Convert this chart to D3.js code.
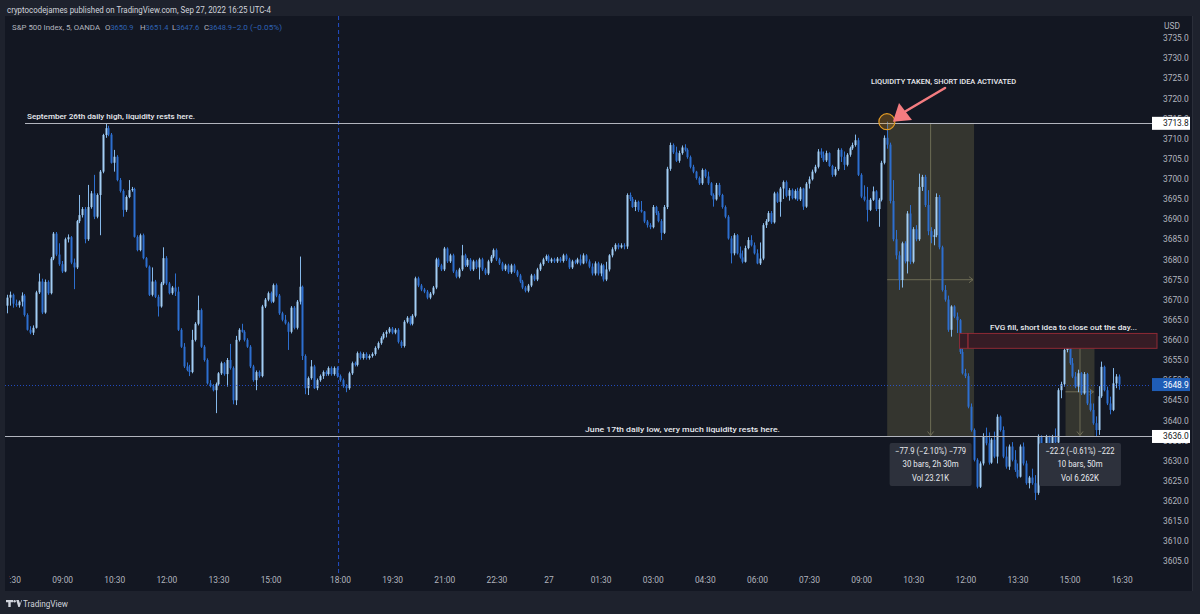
<!DOCTYPE html>
<html><head><meta charset="utf-8">
<script src="https://cdn.jsdelivr.net/npm/d3@7"></script>
<style>html,body{margin:0;padding:0;background:#1e222d;overflow:hidden}svg{display:block}text{font-family:Roboto,"Noto Sans",sans-serif}</style>
</head><body>
<svg id="c" width="1200" height="614"></svg>
<script>
// ---------- DATA (5-minute bars, first bar = 07:25 Sep 26, index -1) ----------
const firstBar = -1;
const opens = [
3668.5,3670.5,3671.2,3669.0,3668.6,3669.5,3671.0,3666.2,3662.5,3661.8,
3663.0,3671.8,3674.5,3666.8,3674.4,3671.6,3680.2,3686.4,3681.2,3678.8,
3677.0,3685.0,3685.5,3679.2,3678.0,3689.5,3691.0,3692.5,3685.0,3693.0,
3696.4,3690.6,3696.0,3701.8,3710.9,3712.6,3711.0,3704.0,3705.5,3699.7,
3697.0,3692.3,3695.5,3697.2,3697.5,3685.6,3682.3,3686.0,3680.3,3678.2,
3671.2,3674.5,3670.7,3668.3,3674.0,3680.3,3674.0,3671.6,3673.0,3672.0,
3662.5,3658.3,3653.4,3652.5,3652.0,3660.0,3664.0,3667.4,3658.3,3655.0,
3649.2,3648.5,3647.5,3649.0,3651.7,3654.2,3651.5,3655.0,3653.0,3645.0,
3660.0,3662.5,3662.0,3660.0,3658.3,3653.4,3650.0,3652.0,3651.0,3668.3,
3670.0,3671.6,3669.5,3673.6,3671.0,3666.6,3665.0,3664.1,3662.0,3668.0,
3663.0,3669.5,3673.2,3656.0,3648.0,3650.5,3653.4,3648.0,3650.0,3651.0,
3652.0,3651.5,3653.0,3651.5,3653.0,3651.0,3650.0,3648.5,3648.0,3651.7,
3654.2,3653.8,3656.7,3655.5,3656.5,3655.5,3656.0,3656.5,3658.0,3659.2,
3660.5,3661.5,3662.0,3662.8,3661.8,3662.5,3659.5,3658.5,3664.5,3665.5,
3664.0,3666.0,3675.3,3673.5,3672.5,3672.0,3670.5,3671.5,3673.0,3680.0,
3678.5,3677.5,3682.7,3679.5,3681.0,3677.0,3675.7,3677.5,3681.0,3678.5,
3679.9,3677.5,3679.5,3678.0,3680.0,3677.5,3676.5,3679.5,3680.7,3682.3,
3680.0,3679.0,3677.5,3678.5,3676.8,3678.5,3677.0,3676.0,3674.5,3673.0,
3672.2,3673.5,3676.0,3675.0,3677.5,3678.8,3680.0,3680.8,3679.5,3680.0,
3679.5,3680.2,3679.6,3681.0,3680.0,3678.0,3679.5,3679.2,3680.0,3679.0,
3681.0,3679.5,3678.2,3676.5,3679.0,3676.5,3678.5,3675.0,3677.5,3681.0,
3682.5,3683.6,3683.0,3683.5,3683.2,3696.0,3695.0,3693.0,3694.3,3692.3,
3691.9,3689.4,3688.5,3688.0,3693.0,3691.5,3689.5,3686.6,3693.0,3702.5,
3708.4,3706.6,3704.5,3706.4,3707.8,3707.2,3705.4,3703.0,3701.8,3700.2,
3698.9,3702.2,3700.6,3698.9,3696.0,3694.9,3698.5,3696.0,3693.0,3690.6,
3685.2,3681.5,3686.0,3681.5,3680.5,3679.4,3682.8,3684.8,3683.5,3681.5,
3679.0,3680.2,3688.5,3689.5,3691.5,3689.2,3696.4,3694.3,3697.6,3699.2,
3695.8,3697.2,3695.2,3697.0,3694.9,3697.6,3693.1,3698.8,3699.9,3701.8,
3703.0,3706.8,3706.0,3704.6,3706.4,3703.2,3701.0,3702.4,3707.2,3705.5,
3703.5,3706.0,3707.6,3708.4,3709.6,3701.0,3695.6,3694.8,3692.3,3694.8,
3696.9,3692.5,3694.8,3704.0,3710.2,3708.5,3694.5,3685.0,3681.0,3674.9,
3684.0,3679.5,3691.4,3679.4,3687.5,3685.0,3698.0,3700.5,3693.5,3687.0,
3685.6,3686.0,3695.5,3683.0,3672.4,3670.0,3662.5,3668.3,3665.8,3664.9,
3657.0,3651.7,3651.0,3643.4,3637.6,3630.2,3623.5,3629.3,3636.0,3634.3,
3629.5,3635.2,3631.0,3640.9,3637.6,3631.0,3628.5,3633.5,3630.2,3627.7,
3626.0,3633.5,3629.3,3624.4,3625.8,3624.4,3622.0,3636.0,3629.5,3632.8,
3636.0,3630.5,3636.0,3634.5,3647.5,3649.0,3657.5,3659.4,3654.2,3650.9,
3648.4,3651.7,3646.7,3651.5,3644.2,3642.6,3639.3,3637.6,3646.0,3653.3,
3647.5,3644.2,3642.6,3649.2,3650.9];
const highs = [
3671.2,3672.0,3671.5,3670.0,3669.8,3671.8,3671.4,3666.6,3663.4,3663.6,
3672.2,3676.5,3675.2,3675.0,3674.8,3680.6,3686.8,3686.8,3684.0,3679.6,
3685.4,3686.2,3685.8,3680.2,3689.8,3696.0,3693.0,3693.0,3698.5,3697.0,
3701.0,3696.4,3702.2,3711.2,3713.8,3713.2,3711.4,3707.2,3705.9,3700.2,
3697.4,3695.9,3699.7,3698.0,3697.8,3686.0,3686.4,3686.4,3680.6,3678.5,
3678.0,3674.9,3671.2,3674.4,3683.0,3680.8,3674.4,3673.4,3676.5,3673.2,
3662.9,3659.2,3654.4,3653.8,3662.5,3664.4,3671.0,3667.8,3658.7,3655.4,
3650.0,3649.0,3649.4,3652.0,3654.6,3654.5,3655.5,3659.0,3653.4,3661.0,
3662.9,3664.0,3662.4,3660.4,3658.7,3653.8,3652.4,3652.4,3668.7,3670.4,
3672.0,3672.0,3674.0,3674.0,3671.4,3667.0,3666.2,3664.5,3668.4,3668.4,
3669.9,3680.7,3673.5,3656.4,3650.9,3655.0,3653.8,3650.4,3651.4,3652.4,
3652.4,3653.4,3653.4,3653.4,3653.4,3651.4,3650.4,3649.0,3652.1,3654.6,
3654.6,3657.1,3657.1,3656.9,3656.9,3656.4,3656.9,3658.4,3659.6,3660.9,
3661.9,3662.4,3663.2,3663.2,3662.9,3662.9,3659.9,3664.9,3665.9,3665.9,
3666.4,3675.7,3675.7,3673.9,3672.9,3672.4,3671.9,3673.4,3680.4,3680.4,
3678.9,3683.1,3683.0,3681.4,3681.4,3677.4,3677.9,3683.6,3681.4,3680.3,
3680.3,3679.9,3679.9,3680.4,3680.4,3677.9,3679.9,3681.1,3682.7,3682.7,
3680.4,3679.4,3678.9,3678.9,3678.9,3678.9,3677.4,3676.4,3674.9,3673.4,
3673.9,3676.4,3676.4,3677.9,3679.2,3680.4,3681.2,3681.2,3680.4,3680.4,
3680.6,3680.6,3681.4,3681.4,3680.4,3679.9,3679.9,3680.4,3681.2,3681.5,
3681.3,3680.0,3679.0,3679.5,3679.4,3679.0,3678.8,3679.4,3681.3,3683.0,
3684.0,3684.0,3684.0,3684.0,3696.4,3696.6,3695.5,3694.8,3694.6,3694.5,
3692.0,3689.8,3689.0,3693.5,3693.3,3692.0,3690.0,3693.5,3703.0,3709.0,
3708.8,3708.0,3707.0,3708.3,3708.6,3707.6,3705.8,3703.5,3702.0,3700.6,
3702.6,3702.5,3701.8,3699.2,3696.4,3699.0,3699.0,3696.3,3693.4,3691.0,
3685.8,3686.5,3686.3,3683.2,3682.2,3683.4,3685.5,3686.0,3684.2,3682.5,
3684.2,3689.0,3690.0,3692.0,3692.0,3696.8,3696.8,3698.0,3699.6,3699.6,
3697.7,3697.6,3697.4,3697.8,3698.0,3697.8,3699.2,3700.6,3702.3,3703.5,
3707.4,3707.6,3706.8,3707.0,3706.6,3703.5,3703.0,3707.6,3707.6,3706.8,
3706.4,3708.0,3709.0,3711.0,3710.2,3701.4,3698.4,3698.0,3695.2,3698.1,
3697.2,3695.2,3704.5,3710.8,3714.2,3709.0,3699.7,3687.3,3682.0,3684.4,
3684.5,3692.0,3693.5,3688.0,3688.5,3701.3,3701.0,3701.0,3697.2,3688.0,
3687.5,3696.4,3696.0,3683.4,3673.6,3671.0,3668.6,3668.6,3666.8,3665.2,
3657.8,3652.8,3651.7,3644.2,3638.0,3630.6,3629.8,3636.8,3638.2,3637.0,
3635.6,3637.2,3641.5,3641.2,3638.5,3633.5,3634.0,3634.6,3632.6,3629.3,
3634.0,3634.5,3630.0,3626.2,3628.0,3626.4,3636.5,3636.3,3633.5,3636.4,
3636.2,3636.4,3638.0,3648.0,3649.6,3658.0,3660.0,3659.6,3655.5,3652.0,
3652.6,3652.0,3652.0,3651.8,3647.5,3644.2,3641.0,3648.5,3654.6,3653.6,
3648.4,3645.9,3653.0,3651.5,3651.4];
const lows = [
3666.6,3668.5,3668.0,3668.2,3668.0,3668.3,3665.8,3662.3,3661.4,3661.2,
3662.8,3671.4,3666.4,3666.5,3671.2,3671.3,3679.8,3680.8,3678.4,3676.6,
3676.8,3684.2,3678.8,3672.6,3677.6,3689.0,3690.4,3684.0,3684.6,3692.6,
3690.0,3690.2,3686.0,3701.4,3710.2,3710.6,3703.8,3701.8,3699.4,3696.6,
3690.6,3691.8,3695.2,3696.8,3685.4,3682.0,3682.0,3680.0,3677.9,3670.9,
3670.8,3670.4,3665.8,3668.0,3673.6,3673.6,3671.3,3671.2,3670.9,3662.2,
3658.0,3653.0,3652.2,3651.0,3651.7,3659.6,3663.6,3658.0,3654.6,3648.9,
3648.2,3647.2,3641.8,3648.6,3651.3,3651.1,3648.4,3652.6,3644.0,3643.8,
3659.6,3661.8,3659.6,3658.0,3653.0,3649.6,3647.5,3650.6,3650.7,3667.9,
3669.6,3669.1,3669.2,3670.6,3666.2,3664.6,3663.8,3657.5,3661.6,3662.6,
3662.6,3668.8,3655.0,3646.5,3646.3,3650.1,3647.8,3647.5,3649.6,3650.3,
3651.0,3651.1,3651.1,3651.1,3650.6,3649.6,3648.1,3647.0,3647.6,3651.3,
3653.4,3653.4,3655.1,3655.1,3655.1,3655.1,3655.6,3656.1,3657.6,3658.8,
3660.1,3660.6,3661.6,3661.4,3661.4,3659.1,3658.0,3658.1,3664.1,3663.6,
3663.6,3665.6,3673.1,3672.1,3671.6,3670.1,3670.1,3671.1,3672.6,3678.1,
3677.1,3677.1,3679.1,3679.1,3676.6,3675.3,3675.3,3677.1,3678.1,3678.1,
3677.1,3677.1,3677.6,3675.0,3677.1,3676.1,3676.1,3679.1,3680.3,3679.6,
3678.6,3677.1,3677.1,3676.4,3676.4,3676.6,3675.6,3674.1,3672.6,3671.8,
3671.8,3673.1,3674.6,3674.6,3677.1,3678.4,3679.6,3679.1,3679.1,3679.1,
3679.1,3679.2,3679.2,3679.6,3677.6,3677.6,3678.8,3678.8,3678.5,3678.8,
3679.0,3677.8,3676.0,3676.0,3676.0,3675.8,3674.5,3674.6,3677.0,3680.5,
3682.0,3682.5,3682.7,3682.5,3682.6,3694.5,3692.8,3692.0,3691.8,3691.6,
3689.0,3687.9,3687.5,3687.7,3691.0,3689.2,3684.8,3686.3,3692.5,3702.0,
3706.2,3704.2,3704.0,3706.0,3706.8,3705.0,3702.6,3701.4,3699.8,3698.5,
3698.5,3700.2,3698.5,3695.8,3693.1,3694.6,3695.6,3692.6,3690.2,3684.9,
3679.0,3681.0,3681.2,3680.2,3679.0,3679.2,3682.5,3683.2,3681.2,3678.8,
3678.6,3679.8,3687.8,3689.3,3688.8,3688.9,3694.0,3690.6,3695.0,3695.4,
3694.6,3694.9,3694.9,3694.5,3694.5,3692.3,3692.8,3697.6,3699.6,3701.4,
3702.6,3705.2,3704.2,3704.2,3703.0,3700.5,3700.6,3702.0,3704.2,3702.2,
3703.1,3705.5,3707.2,3708.0,3700.7,3695.2,3694.4,3689.4,3692.0,3694.5,
3692.0,3688.1,3694.4,3703.6,3707.5,3693.9,3684.5,3680.0,3672.4,3673.0,
3679.0,3676.5,3678.8,3679.0,3684.5,3684.6,3697.0,3693.0,3686.0,3684.0,
3683.5,3685.5,3682.5,3672.0,3669.5,3662.0,3660.8,3665.4,3661.7,3656.5,
3651.4,3650.5,3643.0,3637.2,3629.8,3623.1,3623.2,3628.8,3633.8,3629.0,
3629.2,3630.6,3629.3,3637.2,3630.6,3628.0,3627.7,3629.8,3627.2,3625.6,
3625.8,3628.8,3624.0,3623.1,3624.0,3620.2,3621.5,3629.0,3627.5,3630.8,
3629.8,3630.2,3634.0,3634.2,3645.5,3648.4,3656.9,3653.8,3650.5,3648.0,
3647.0,3646.3,3646.4,3643.8,3642.2,3638.9,3636.0,3636.4,3645.6,3647.2,
3643.8,3641.5,3642.3,3648.0,3647.6];
const closes = [
3670.5,3671.2,3669.0,3668.6,3669.5,3671.0,3666.2,3662.5,3661.8,3663.0,
3671.8,3674.5,3666.8,3674.4,3671.6,3680.2,3686.4,3681.2,3678.8,3677.0,
3685.0,3685.5,3679.2,3678.0,3689.5,3691.0,3692.5,3685.0,3693.0,3696.4,
3690.6,3696.0,3701.8,3710.9,3712.6,3711.0,3704.0,3705.5,3699.7,3697.0,
3692.3,3695.5,3697.2,3697.5,3685.6,3682.3,3686.0,3680.3,3678.2,3671.2,
3674.5,3670.7,3668.3,3674.0,3680.3,3674.0,3671.6,3673.0,3672.0,3662.5,
3658.3,3653.4,3652.5,3652.0,3660.0,3664.0,3667.4,3658.3,3655.0,3649.2,
3648.5,3647.5,3649.0,3651.7,3654.2,3651.5,3655.0,3653.0,3645.0,3660.0,
3662.5,3662.0,3660.0,3658.3,3653.4,3650.0,3652.0,3651.0,3668.3,3670.0,
3671.6,3669.5,3673.6,3671.0,3666.6,3665.0,3664.1,3662.0,3668.0,3663.0,
3669.5,3673.2,3656.0,3648.0,3650.5,3653.4,3648.0,3650.0,3651.0,3652.0,
3651.5,3653.0,3651.5,3653.0,3651.0,3650.0,3648.5,3648.0,3651.7,3654.2,
3653.8,3656.7,3655.5,3656.5,3655.5,3656.0,3656.5,3658.0,3659.2,3660.5,
3661.5,3662.0,3662.8,3661.8,3662.5,3659.5,3658.5,3664.5,3665.5,3664.0,
3666.0,3675.3,3673.5,3672.5,3672.0,3670.5,3671.5,3673.0,3680.0,3678.5,
3677.5,3682.7,3679.5,3681.0,3677.0,3675.7,3677.5,3681.0,3678.5,3679.9,
3677.5,3679.5,3678.0,3680.0,3677.5,3676.5,3679.5,3680.7,3682.3,3680.0,
3679.0,3677.5,3678.5,3676.8,3678.5,3677.0,3676.0,3674.5,3673.0,3672.2,
3673.5,3676.0,3675.0,3677.5,3678.8,3680.0,3680.8,3679.5,3680.0,3679.5,
3680.2,3679.6,3681.0,3680.0,3678.0,3679.5,3679.2,3680.0,3679.0,3681.0,
3679.5,3678.2,3676.5,3679.0,3676.5,3678.5,3675.0,3677.5,3681.0,3682.5,
3683.6,3683.0,3683.5,3683.2,3696.0,3695.0,3693.0,3694.3,3692.3,3691.9,
3689.4,3688.5,3688.0,3693.0,3691.5,3689.5,3686.6,3693.0,3702.5,3708.4,
3706.6,3704.5,3706.4,3707.8,3707.2,3705.4,3703.0,3701.8,3700.2,3698.9,
3702.2,3700.6,3698.9,3696.0,3694.9,3698.5,3696.0,3693.0,3690.6,3685.2,
3681.5,3686.0,3681.5,3680.5,3679.4,3682.8,3684.8,3683.5,3681.5,3679.0,
3680.2,3688.5,3689.5,3691.5,3689.2,3696.4,3694.3,3697.6,3699.2,3695.8,
3697.2,3695.2,3697.0,3694.9,3697.6,3693.1,3698.8,3699.9,3701.8,3703.0,
3706.8,3706.0,3704.6,3706.4,3703.2,3701.0,3702.4,3707.2,3705.5,3703.5,
3706.0,3707.6,3708.4,3709.6,3701.0,3695.6,3694.8,3692.3,3694.8,3696.9,
3692.5,3694.8,3704.0,3710.2,3708.5,3694.5,3685.0,3681.0,3674.9,3684.0,
3679.5,3691.4,3679.4,3687.5,3685.0,3698.0,3700.5,3693.5,3687.0,3685.6,
3686.0,3695.5,3683.0,3672.4,3670.0,3662.5,3668.3,3665.8,3664.9,3657.0,
3651.7,3651.0,3643.4,3637.6,3630.2,3623.5,3629.3,3636.0,3634.3,3629.5,
3635.2,3631.0,3640.9,3637.6,3631.0,3628.5,3633.5,3630.2,3627.7,3626.0,
3633.5,3629.3,3624.4,3625.8,3624.4,3622.0,3636.0,3629.5,3632.8,3636.0,
3630.5,3636.0,3634.5,3647.5,3649.0,3657.5,3659.4,3654.2,3650.9,3648.4,
3651.7,3646.7,3651.5,3644.2,3642.6,3639.3,3637.6,3646.0,3653.3,3647.5,
3644.2,3642.6,3649.2,3650.9,3648.9];

const timeTickBars   = [0,18,36,54,72,90,114,132,150,168,186,204,222,240,258,276,294,312,330,348,366,384];
const timeTickLabels = ["07:30","09:00","10:30","12:00","13:30","15:00","18:00","19:30","21:00","22:30","27","01:30","03:00","04:30","06:00","07:30","09:00","10:30","12:00","13:30","15:00","16:30"];
const priceTicks = [3605,3610,3615,3620,3625,3630,3635,3640,3645,3650,3655,3660,3665,3670,3675,3680,3685,3690,3695,3700,3705,3710,3715,3720,3725,3730,3735];

const dayHigh = 3713.8, juneLow = 3636.0, lastPrice = 3648.9;
const sessionBreakBar = 113.5;
const measure1 = {fromBar:303, toBar:333, fromPrice:3713.9, toPrice:3636.0, lines:["\u221277.9 (\u22122.10%) \u2212779","30 bars, 2h 30m","Vol 23.21K"]};
const measure2 = {fromBar:364.6, toBar:374.6, fromPrice:3658.2, toPrice:3636.0, lines:["\u221222.2 (\u22120.61%) \u2212222","10 bars, 50m","Vol 6.262K"]};
const fvg = {fromBar:328, innerBar:330.9, top:3661.6, bottom:3657.9};
const grabBar = 302.9, grabPrice = 3714.2;
const headerLine = "cryptocodejames published on TradingView.com, Sep 27, 2022 16:25 UTC-4";
const legendTitle = "S&P 500 Index, 5, OANDA";
const legendOHLC = [["O","3650.9"],["H","3651.4"],["L","3647.6"],["C","3648.9"]];
const legendChange = "\u22122.0 (\u22120.05%)";

// ---------- SCALES ----------
const x = d3.scaleLinear().domain([0, 383]).range([10, 10 + 2.895*383]);
const y = d3.scaleLinear().domain([3605, 3735]).range([561.25, 38]);

const svg = d3.select("#c");
const PX0 = 5, PX1 = 1192, PY0 = 16, PY1 = 591, PLOT_R = 1151;
const C_UP = "#a3cef4", C_DN = "#2d6fcf";

svg.append("rect").attr("width",1200).attr("height",614).attr("fill","#1e222d");
svg.append("rect").attr("x",PX0).attr("y",PY0).attr("width",PX1-PX0).attr("height",PY1-PY0).attr("fill","#131722");
svg.append("line").attr("x1",PX1+0.5).attr("x2",PX1+0.5).attr("y1",PY0).attr("y2",PY1).attr("stroke","#2a2e39");

const defs = svg.append("defs");
defs.append("clipPath").attr("id","plot").append("rect").attr("x",6).attr("y",PY0).attr("width",PLOT_R-6).attr("height",575-PY0);
defs.append("clipPath").attr("id","taxis").append("rect").attr("x",9.3).attr("y",570).attr("width",1143).attr("height",20);

// header
svg.append("text").attr("x",7).attr("y",13).attr("fill","#d1d4dc").attr("font-size",8.6)
  .attr("textLength",264).attr("lengthAdjust","spacingAndGlyphs").text(headerLine);
const lg = svg.append("text").attr("x",12).attr("y",30).attr("font-size",7.8).attr("fill","#b2b5be");
lg.append("tspan").text(legendTitle).attr("textLength",88).attr("lengthAdjust","spacingAndGlyphs");
const lgX = [105,140,172,204];
legendOHLC.forEach((d,i)=>{
  lg.append("tspan").attr("x",lgX[i]).attr("fill","#b2b5be").text(d[0]);
  lg.append("tspan").attr("fill","#2f62b3").attr("textLength",23).attr("lengthAdjust","spacingAndGlyphs").text(d[1]);
});
lg.append("tspan").attr("x",232).attr("fill","#2f62b3").attr("textLength",50).attr("lengthAdjust","spacingAndGlyphs").text(legendChange);

const plot = svg.append("g").attr("clip-path","url(#plot)");

// session break
plot.append("line").attr("x1",x(sessionBreakBar)).attr("x2",x(sessionBreakBar)).attr("y1",PY0).attr("y2",575)
  .attr("stroke","#2962ff").attr("stroke-opacity",0.75).attr("stroke-dasharray","4,3");

// measure boxes (behind candles)
function measureBox(m){
  const x0 = x(m.fromBar), x1 = x(m.toBar), y0 = y(m.fromPrice), y1 = y(m.toPrice);
  plot.append("rect").attr("x",x0).attr("y",y0).attr("width",x1-x0).attr("height",y1-y0).attr("fill","#34352f");
  const xm = (x0+x1)/2, ym = (y0+y1)/2;
  plot.append("line").attr("x1",xm).attr("x2",xm).attr("y1",y0).attr("y2",y1-1).attr("stroke","#6e6c55").attr("stroke-width",1);
  plot.append("line").attr("x1",x0).attr("x2",x1-1).attr("y1",ym).attr("y2",ym).attr("stroke","#6e6c55").attr("stroke-width",1);
  plot.append("path").attr("d",`M${xm-3},${y1-5}L${xm},${y1-1}L${xm+3},${y1-5}`).attr("fill","none").attr("stroke","#6e6c55");
  plot.append("path").attr("d",`M${x1-5},${ym-3}L${x1-1},${ym}L${x1-5},${ym+3}`).attr("fill","none").attr("stroke","#6e6c55");
}
measureBox(measure1);
measureBox(measure2);

// FVG box
{
  const x0 = x(fvg.fromBar), y0 = y(fvg.top), y1 = y(fvg.bottom);
  svg.append("rect").attr("x",x0).attr("y",y0).attr("width",1157-x0).attr("height",y1-y0)
    .attr("fill","#361c25").attr("stroke","#8e2a35").attr("stroke-width",1);
  svg.append("line").attr("x1",x(fvg.innerBar)).attr("x2",x(fvg.innerBar)).attr("y1",y0).attr("y2",y1).attr("stroke","#b8323d");
}

// candles
const bars = d3.range(opens.length).map(k=>({b:k+firstBar,o:opens[k],h:highs[k],l:lows[k],c:closes[k]}));
const cg = plot.append("g");
cg.selectAll("line.w").data(bars).join("line").attr("class","w")
  .attr("x1",d=>Math.round(x(d.b))+0.5).attr("x2",d=>Math.round(x(d.b))+0.5)
  .attr("y1",d=>y(d.h)).attr("y2",d=>y(d.l))
  .attr("stroke",d=>d.c>=d.o?"#86b9ea":C_DN).attr("stroke-width",1);
cg.selectAll("rect.b").data(bars).join("rect").attr("class","b")
  .attr("x",d=>Math.round(x(d.b))-0.5).attr("width",2)
  .attr("y",d=>y(Math.max(d.o,d.c))).attr("height",d=>Math.max(1,Math.abs(y(d.o)-y(d.c))))
  .attr("fill",d=>d.c>=d.o?C_UP:C_DN);

// horizontal levels
svg.append("line").attr("x1",25).attr("x2",PLOT_R+1).attr("y1",Math.round(y(dayHigh))+0.5).attr("y2",Math.round(y(dayHigh))+0.5)
  .attr("stroke","#b2b5be").attr("stroke-width",1);
svg.append("line").attr("x1",PX0).attr("x2",PLOT_R+1).attr("y1",Math.round(y(juneLow))+0.5).attr("y2",Math.round(y(juneLow))+0.5)
  .attr("stroke","#b2b5be").attr("stroke-width",1);
svg.append("text").attr("x",27).attr("y",y(dayHigh)-4).attr("fill","#e8eaef").attr("font-size",8).attr("font-weight",500)
  .attr("textLength",168).attr("lengthAdjust","spacingAndGlyphs").text("September 26th daily high, liquidity rests here.");
svg.append("text").attr("x",585).attr("y",y(juneLow)-4).attr("fill","#e8eaef").attr("font-size",8).attr("font-weight",500)
  .attr("textLength",195).attr("lengthAdjust","spacingAndGlyphs").text("June 17th daily low, very much liquidity rests here.");

// last price dotted line
svg.append("line").attr("x1",PX0).attr("x2",PLOT_R).attr("y1",Math.round(y(lastPrice))+0.5).attr("y2",Math.round(y(lastPrice))+0.5)
  .attr("stroke","#2962ff").attr("stroke-opacity",0.7).attr("stroke-dasharray","1,2");

// FVG label
svg.append("text").attr("x",990).attr("y",y(fvg.top)-3).attr("fill","#e8eaef").attr("font-size",8).attr("font-weight",500)
  .attr("textLength",147).attr("lengthAdjust","spacingAndGlyphs").text("FVG fill, short idea to close out the day...");

// liquidity grab circle + arrow
{
  const cx = x(grabBar), cy = y(grabPrice);
  svg.append("circle").attr("cx",cx).attr("cy",cy).attr("r",8).attr("fill","rgba(230,150,30,0.28)").attr("stroke","#e39b25").attr("stroke-width",1.2);
  svg.append("line").attr("x1",945).attr("y1",88).attr("x2",906).attr("y2",111).attr("stroke","#f47c80").attr("stroke-width",2.6).attr("stroke-linecap","round");
  svg.append("path").attr("d",`M${cx+6},${cy}L${899},${103}L${912},${120}Z`).attr("fill","#f47c80");
  svg.append("text").attr("x",871).attr("y",84).attr("fill","#e8eaef").attr("font-size",8).attr("font-weight",500)
    .attr("textLength",145).attr("lengthAdjust","spacingAndGlyphs").text("LIQUIDITY TAKEN, SHORT IDEA ACTIVATED");
}

// measure labels
function measureLabel(m, widths){
  const xm = (x(m.fromBar)+x(m.toBar))/2;
  svg.append("rect").attr("x",xm-41).attr("y",443).attr("width",82).attr("height",43).attr("rx",2).attr("fill","#2d313c");
  m.lines.forEach((t,i)=>{
    svg.append("text").attr("x",xm).attr("y",454+i*13.3).attr("text-anchor","middle").attr("fill","#e8eaef")
      .attr("font-size",8.4).attr("textLength",widths[i]).attr("lengthAdjust","spacingAndGlyphs").text(t);
  });
}
measureLabel(measure1,[71,56,37]);
measureLabel(measure2,[69,45,38]);

// price axis
const ya = svg.append("g").attr("transform","translate(1163,0)")
  .call(d3.axisRight(y).tickValues(priceTicks).tickFormat(d=>d.toFixed(1)).tickSize(0).tickPadding(0));
ya.select(".domain").remove();
ya.selectAll("text").attr("fill","#b2b5be").attr("font-size",8.4).attr("font-family","Roboto");
svg.append("text").attr("x",1164).attr("y",29).attr("fill","#b2b5be").attr("font-size",8.4).text("USD");

function tag(price, bg, fg){
  const yy = y(price);
  svg.append("rect").attr("x",1152).attr("y",yy-6.5).attr("width",38).attr("height",13).attr("fill",bg);
  svg.append("text").attr("x",1163).attr("y",yy+3).attr("fill",fg).attr("font-size",8.4).text(price.toFixed(1));
}
tag(dayHigh,"#ffffff","#131722");
tag(juneLow,"#ffffff","#131722");
tag(lastPrice,"#1f5db6","#ffffff");

// time axis (clip in page coordinates on the outer group)
const xaOuter = svg.append("g").attr("clip-path","url(#taxis)");
const xa = xaOuter.append("g").attr("transform","translate(0,577)")
  .call(d3.axisBottom(x).tickValues(timeTickBars).tickFormat((d,i)=>timeTickLabels[i]).tickSize(0).tickPadding(0));
xa.select(".domain").remove();
xa.selectAll("text").attr("fill","#b2b5be").attr("font-size",8.4).attr("font-family","Roboto");

// footer logo
svg.append("path").attr("d","M6,600h7v2.3h-2.3v4.7h-2.4v-4.7h-2.3z").attr("fill","#d1d4dc");
svg.append("circle").attr("cx",14.6).attr("cy",601.2).attr("r",1.2).attr("fill","#d1d4dc");
svg.append("path").attr("d","M16.2,600h2.6l1.3,3.8l1.3,-3.8h0.6l-2.3,7h-1.4z").attr("fill","#d1d4dc");
svg.append("text").attr("x",23).attr("y",607).attr("fill","#d1d4dc").attr("font-size",9)
  .attr("textLength",45).attr("lengthAdjust","spacingAndGlyphs").text("TradingView");
</script>
</body></html>
